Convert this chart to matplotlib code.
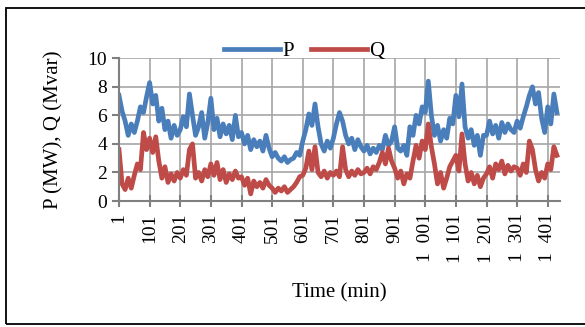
import matplotlib.pyplot as plt
import numpy as np
from matplotlib.patches import Rectangle

# minute of day, sampled every 10 min
minutes = np.arange(1, 1441, 10)

p_mw = [
    7.4, 6.3, 5.6, 4.6, 5.4, 4.8, 5.6, 6.6, 6.2, 7.3,
    8.3, 6.8, 7.4, 5.6, 6.5, 5.0, 5.6, 4.4, 5.3, 4.6,
    5.0, 5.9, 5.2, 7.5, 6.0, 4.6, 5.2, 6.2, 4.4, 5.5,
    7.2, 5.0, 5.8, 4.5, 5.4, 4.7, 5.3, 4.3, 6.0, 4.5,
    4.8, 4.0, 4.6, 3.6, 4.3, 3.8, 4.2, 3.5, 4.6, 3.7,
    3.1, 3.4, 3.0, 2.8, 3.1, 2.7, 2.9, 3.0, 3.4, 3.2,
    4.2, 5.0, 6.1, 5.3, 6.8, 5.2, 4.0, 3.5, 4.2, 3.7,
    4.4, 5.4, 6.2, 5.6, 4.6, 4.0, 4.4, 3.6, 4.3, 3.8,
    3.5, 3.9, 3.3, 3.7, 3.4, 3.9, 3.6, 4.6, 3.9, 4.2,
    5.2, 3.7, 3.5, 3.9, 3.2, 5.2, 4.6, 6.0, 5.4, 6.6,
    6.2, 8.4, 6.0, 4.6, 5.3, 4.2, 5.0, 4.4, 5.8, 5.4,
    7.4, 5.9, 8.2, 5.2, 4.4, 5.0, 3.9, 4.6, 3.2, 4.6,
    4.6, 5.6, 4.7, 5.3, 4.4, 5.5, 4.8, 5.4, 5.0, 4.8,
    5.6, 5.1, 5.9, 6.6, 7.4, 8.0, 6.8, 7.6, 5.8, 4.8,
    6.6, 5.4, 7.5, 6.2,
]

q_mvar = [
    3.6, 1.2, 0.8, 1.6, 0.9, 1.8, 2.6, 2.2, 4.8, 3.6,
    4.4, 3.4, 4.5, 2.8, 1.6, 2.4, 1.3, 1.9, 1.4, 2.0,
    1.6, 2.2, 1.8, 3.6, 4.0, 1.6, 2.0, 1.4, 2.2, 1.7,
    2.6, 1.8, 2.7, 1.5, 2.2, 1.3, 1.9, 1.5, 2.1, 1.6,
    1.7, 1.1, 1.6, 0.5, 1.4, 1.0, 1.3, 0.9, 1.5, 1.1,
    0.9, 0.6, 0.9, 0.7, 1.0, 0.6, 0.8, 1.0, 1.3, 1.7,
    1.8, 2.3, 3.5, 2.2, 3.8, 2.0, 1.7, 2.1, 1.6, 2.0,
    1.8, 2.1, 1.7, 3.8, 2.2, 1.7, 2.1, 1.8, 2.2, 1.9,
    2.0, 2.3, 1.9, 2.4, 2.2, 2.7, 3.4, 2.6, 3.7, 2.8,
    2.3, 1.6, 2.1, 1.2, 1.9, 1.6, 2.8, 3.9, 3.0, 4.2,
    3.6, 5.4, 3.8, 2.6, 1.2, 2.0, 0.9, 1.6, 2.4, 2.8,
    3.2, 2.1, 4.7, 2.6, 1.4, 2.0, 1.2, 1.8, 1.0, 1.6,
    1.9, 2.4, 1.6, 2.6, 2.2, 2.8, 1.9, 2.5, 2.1, 2.4,
    2.3, 1.8, 2.6, 2.0, 4.2, 3.6, 2.2, 1.4, 2.0, 1.6,
    2.6, 2.2, 3.8, 3.2,
]

tick_pos = list(range(1, 1402, 100))
tick_labels = ["1", "101", "201", "301", "401", "501", "601", "701", "801",
               "901", "1  001", "1  101", "1  201", "1  301", "1  401"]

plt.rcParams['font.family'] = ['Liberation Serif', 'DejaVu Serif']

fig = plt.figure(figsize=(5.85, 3.27), dpi=100)
ax = fig.add_axes([119 / 585, 1 - 201 / 327, 441 / 585, (201 - 58.3) / 327])

ax.plot(minutes, p_mw, color="#4a7ebb", lw=3.4, label="P")
ax.plot(minutes, q_mvar, color="#be4b48", lw=3.4, label="Q")

ax.set_xlim(1, 1441)
ax.set_ylim(0, 10)
ax.set_yticks(range(0, 11, 2))
ax.set_xticks(tick_pos)
ax.set_xticklabels(tick_labels, rotation=90, fontsize=14)
ax.tick_params(axis='y', labelsize=14, direction='out', length=5, color='#808080', width=1.5)
ax.tick_params(axis='x', direction='inout', length=8, color='#808080', width=1.5, pad=5)

ax.grid(True, color='#a6a6a6', lw=1.2)
ax.set_axisbelow(True)
for side in ['top', 'right']:
    ax.spines[side].set_visible(False)
for side in ['left', 'bottom']:
    ax.spines[side].set_color('#808080')
    ax.spines[side].set_linewidth(1.5)

ax.set_xlabel("Time (min)", fontsize=15, labelpad=15)
ax.set_ylabel("P (MW), Q (Mvar)", fontsize=15, labelpad=17)

ax.legend(loc='lower center', bbox_to_anchor=(0.42, 0.98), ncol=2, frameon=False,
          fontsize=15, handlelength=2.7, handletextpad=0.1, columnspacing=0.8,
          borderaxespad=0, borderpad=0)

# outer border of the chart area
fig.patches.append(Rectangle((6 / 585, 3 / 327), 1.1, 316 / 327, transform=fig.transFigure,
                             fill=False, edgecolor='black', lw=1.3))

fig.savefig("out.png", dpi=100)
